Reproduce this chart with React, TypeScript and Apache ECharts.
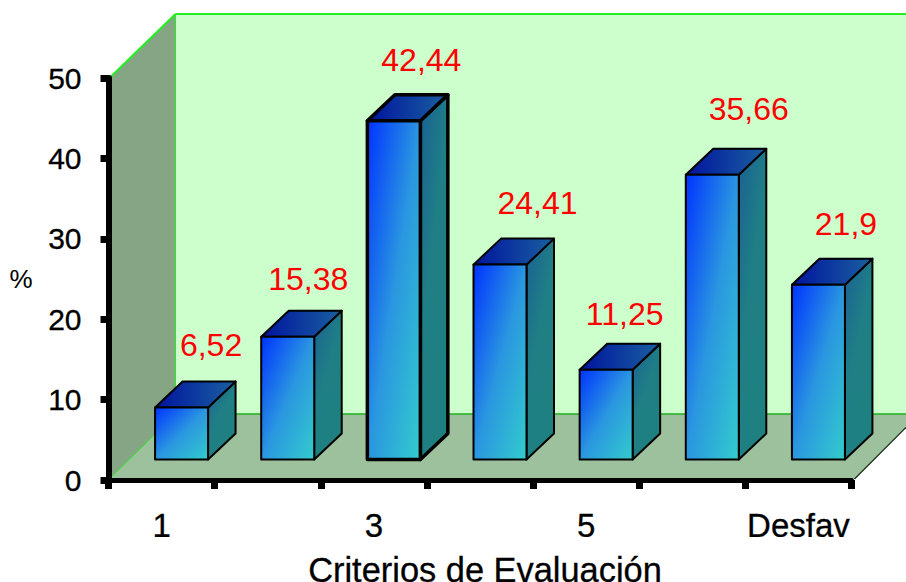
import React, { useEffect, useRef } from "react";
import * as echarts from "echarts";

const categories = ["1", "2", "3", "4", "5", "6", "Desfav"];
const percentages = [6.52, 15.38, 42.44, 24.41, 11.25, 35.66, 21.9];
const axisTicks = { min: 0, max: 50, interval: 10 };
const axisNames = { x: "Criterios de Evaluación", y: "%" };

// Per-bar nudges of the value captions, relative to the bar's back top edge.
const captionShiftX = [3, -6, 1, 11, -8, 10, 1];
const captionShiftY = [-36, -32, -35, -36, -30, -40, -35];

const FONT = '"Liberation Sans", Arial, sans-serif';
const DEPTH = { x: 64, y: 64 };
const BAR_INSET = { x: 20, y: 20.5 };
const BAR_DEPTH = { x: 27.5, y: 26 };
const BAR_WIDTH = 53;
const HEIGHT_RATIO = 0.993;
const HEAVY = { textBorderColor: "#000", textBorderWidth: 0.3 };

const lin = (x1: number, y1: number, x2: number, y2: number, ...colors: string[]) =>
  new echarts.graphic.LinearGradient(
    x1,
    y1,
    x2,
    y2,
    colors.map((color, k) => ({ offset: k / (colors.length - 1), color }))
  );

function renderRoom(params: any, api: any) {
  const cs = params.coordSys;
  const left = cs.x + 1;
  const bottom = cs.y + cs.height - 1;
  const top = cs.y;
  const right = cs.x + cs.width + 3;
  const backX = left + DEPTH.x + 2;
  const floorY = bottom - DEPTH.y - 1;
  const roofY = top - DEPTH.y;
  const pageRight = 906;
  const edgeRightY = bottom - (pageRight - right);
  const green = "#22ee22";
  return {
    type: "group",
    children: [
      { type: "rect", shape: { x: backX, y: roofY, width: pageRight - backX, height: floorY - roofY }, style: { fill: "#ccffcc" } },
      { type: "polygon", shape: { points: [[left, top], [backX, roofY], [backX, floorY], [left, bottom]] }, style: { fill: "#85a585" } },
      { type: "polygon", shape: { points: [[left, bottom], [backX, floorY], [pageRight, floorY], [pageRight, edgeRightY], [right, bottom]] }, style: { fill: "#9dc09d" } },
      { type: "line", shape: { x1: left, y1: top, x2: backX, y2: roofY }, style: { stroke: green, lineWidth: 2 } },
      { type: "line", shape: { x1: backX, y1: roofY, x2: pageRight, y2: roofY }, style: { stroke: green, lineWidth: 2 } },
      { type: "line", shape: { x1: backX, y1: roofY, x2: backX, y2: floorY }, style: { stroke: green, lineWidth: 1 } },
      { type: "line", shape: { x1: left, y1: bottom, x2: backX, y2: floorY }, style: { stroke: green, lineWidth: 1 } },
      { type: "line", shape: { x1: backX, y1: floorY, x2: pageRight, y2: floorY }, style: { stroke: "#22b022", lineWidth: 1.5 } },
      { type: "line", shape: { x1: right, y1: bottom, x2: pageRight, y2: edgeRightY }, style: { stroke: "#1a2a1a", lineWidth: 1.2 } },
    ],
  };
}

function renderBar(params: any, api: any) {
  const i = api.value(0);
  const v = api.value(1);
  const base = api.coord([i, 0]);
  const tip = api.coord([i, v]);
  const x0 = base[0] - BAR_WIDTH / 2 + BAR_INSET.x;
  const x1 = x0 + BAR_WIDTH;
  const yb = base[1] - BAR_INSET.y;
  const yt = yb - (base[1] - tip[1]) * HEIGHT_RATIO;
  const dx = BAR_DEPTH.x;
  const dy = BAR_DEPTH.y;
  const stroke = { stroke: "#000", lineWidth: i === 2 ? 3.5 : 2, lineJoin: "round" };
  return {
    type: "group",
    children: [
      {
        type: "polygon",
        shape: { points: [[x1, yt], [x1 + dx, yt - dy], [x1 + dx, yb - dy], [x1, yb]] },
        style: { fill: lin(0, 0, 0.6, 1, "#1a5f95", "#1f7f85", "#1f8080"), ...stroke },
      },
      {
        type: "polygon",
        shape: { points: [[x0, yt], [x0 + dx, yt - dy], [x1 + dx, yt - dy], [x1, yt]] },
        style: { fill: lin(0, 0.5, 1, 0.5, "#00139e", "#1a60a0"), ...stroke },
      },
      {
        type: "rect",
        shape: { x: x0, y: yt, width: BAR_WIDTH, height: yb - yt },
        style: { fill: lin(0, 0, 1, 1, "#0033ff", "#2a96e0", "#33cccc"), ...stroke },
      },
      {
        type: "text",
        x: x1 + captionShiftX[i],
        y: yt - dy + captionShiftY[i],
        style: {
          text: String(v).replace(".", ","),
          fill: "#ff0000",
          font: `32px ${FONT}`,
          align: "center",
          verticalAlign: "middle",
        },
      },
    ],
  };
}

export default function App() {
  const ref = useRef<HTMLDivElement>(null);
  useEffect(() => {
    const chart = echarts.init(ref.current!, undefined, { renderer: "svg" });
    chart.setOption({
      animation: false,
      backgroundColor: "#ffffff",
      grid: { left: 108.5, right: 54.5, top: 78, bottom: 102, outerBoundsMode: "none" },
      xAxis: {
        type: "category",
        data: categories,
        name: axisNames.x,
        nameLocation: "middle",
        nameGap: 73,
        nameTextStyle: { fontFamily: FONT, fontSize: 34.4, color: "#000", padding: [0, 0, 0, 10], ...HEAVY },
        axisLine: { lineStyle: { color: "#000", width: 5 } },
        axisTick: { show: true, interval: 0, length: 9, lineStyle: { color: "#000", width: 7 } },
        axisLabel: { interval: 1, margin: 29, fontFamily: FONT, fontSize: 33, color: "#000", ...HEAVY },
      },
      yAxis: {
        type: "value",
        ...axisTicks,
        name: axisNames.y,
        nameLocation: "middle",
        nameRotate: 0,
        nameGap: 76,
        nameTextStyle: { fontFamily: FONT, fontSize: 26, color: "#000", padding: [0, 0, 12, 0] },
        splitLine: { show: false },
        axisLine: { show: true, lineStyle: { color: "#000", width: 6 } },
        axisTick: { show: true, length: 8, lineStyle: { color: "#000", width: 7 } },
        axisLabel: { margin: 27, fontFamily: FONT, fontSize: 30, color: "#000", ...HEAVY },
      },
      // White band trims the foot of the category labels.
      graphic: [
        { type: "rect", z: 50, shape: { x: 0, y: 537, width: 906, height: 14 }, style: { fill: "#ffffff" } },
      ],
      series: [
        { type: "custom", z: -1, silent: true, clip: false, renderItem: renderRoom, data: [0] },
        {
          type: "custom",
          z: 4,
          silent: true,
          clip: false,
          renderItem: renderBar,
          encode: { x: 0, y: 1 },
          data: percentages.map((v, i) => [i, v]),
        },
      ],
    });
    return () => chart.dispose();
  }, []);
  return <div ref={ref} style={{ position: "absolute", left: 0, top: 0, width: 906, height: 582 }} />;
}
